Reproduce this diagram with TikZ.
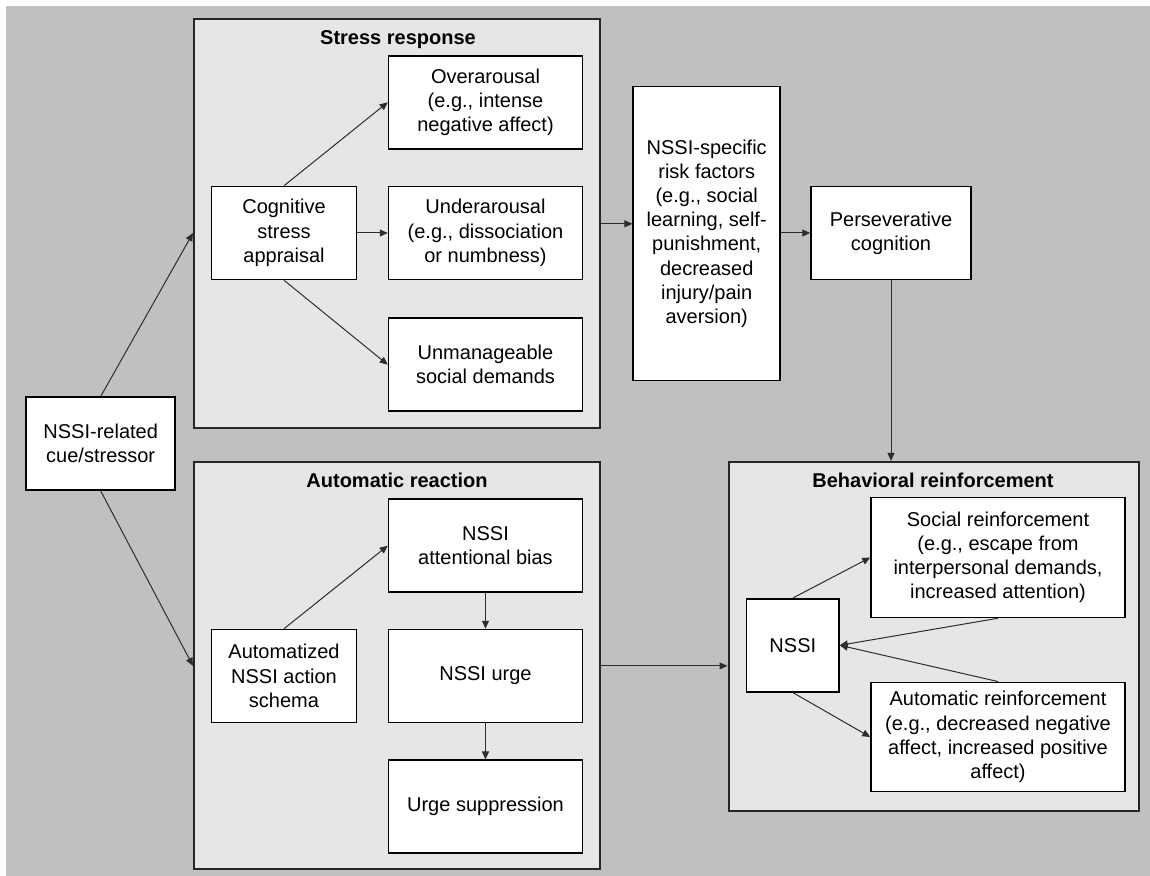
\documentclass[tikz,border=0pt]{standalone}
\usepackage{fontspec}
\setmainfont{Liberation Sans}
\usetikzlibrary{arrows.meta}
\definecolor{bggray}{RGB}{192,192,192}
\definecolor{panelgray}{RGB}{230,230,230}
\definecolor{linegray}{RGB}{45,45,45}
\begin{document}
\begin{tikzpicture}[x=0.5pt, y=-0.5pt,
        box/.style={draw=black, line width=0.75pt, fill=white, align=center, inner sep=0pt,
            font=\fontsize{10}{12.1}\selectfont},
        panel/.style={draw=black!85, line width=1pt, fill=panelgray, inner sep=0pt},
        paneltitle/.style={font=\fontsize{10}{12}\selectfont\bfseries},
        arr/.style={-{Triangle[length=4pt,width=3.5pt]}, draw=linegray, line width=0.5pt}]
                \useasboundingbox (0,0) rectangle (1150,876);
                \fill[bggray] (6,6) rectangle (1150,876);

                \node[panel, minimum width=203pt, minimum height=204.5pt] (stresspanel) at (397,223.8) {};
                \node[panel, minimum width=203pt, minimum height=203.5pt] (autopanel) at (397,665.9) {};
                \node[panel, minimum width=205pt, minimum height=174.5pt] (behavpanel) at (933.5,636.4) {};
                \node[paneltitle] (stresstitle) at (398,40) {Stress response};
                \node[paneltitle] (autotitle) at (397,480) {Automatic reaction};
                \node[paneltitle] (behavtitle) at (933,480) {Behavioral reinforcement};

                \node[box, minimum width=74.5pt, minimum height=46.5pt] (cue) at (100.7,443.7) {NSSI-related\\cue/stressor};
                \node[box, minimum width=72.5pt, minimum height=46.5pt] (cognitive) at (284,233) {Cognitive\\stress\\appraisal};
                \node[box, minimum width=97pt, minimum height=46.5pt] (overarousal) at (485.5,102.3) {Overarousal\\(e.g., intense\\negative affect)};
                \node[box, minimum width=97pt, minimum height=46.5pt] (underarousal) at (485.5,233) {Underarousal\\(e.g., dissociation\\or numbness)};
                \node[box, minimum width=97pt, minimum height=46.5pt] (unmanageable) at (485.5,364.7) {Unmanageable\\social demands};
                \node[box, minimum width=73.5pt, minimum height=147pt] (risk) at (706.7,233.7) {NSSI-specific\\risk factors\\(e.g., social\\learning, self-\\punishment,\\decreased\\injury/pain\\aversion)};
                \node[box, minimum width=80pt, minimum height=46.5pt] (persev) at (891,233) {Perseverative\\cognition};

                \node[box, minimum width=72.5pt, minimum height=46.5pt] (schema) at (284,676) {Automatized\\NSSI action\\schema};
                \node[box, minimum width=97pt, minimum height=46.5pt] (attention) at (485.5,545.7) {NSSI\\attentional bias};
                \node[box, minimum width=97pt, minimum height=46.5pt] (urge) at (485.5,676) {NSSI urge};
                \node[box, minimum width=97pt, minimum height=46.5pt] (suppression) at (485.5,806.7) {Urge suppression};

                \node[box, minimum width=46.25pt, minimum height=46.5pt] (nssi) at (792.8,645.3) {NSSI};
                \node[box, minimum width=127pt, minimum height=60pt] (social) at (998,557.5) {Social reinforcement\\(e.g., escape from\\interpersonal demands,\\increased attention)};
                \node[box, minimum width=127pt, minimum height=54.7pt] (autoreinf) at (998,737) {Automatic reinforcement\\(e.g., decreased negative\\affect, increased positive\\affect)};

                \draw[arr] (cue.north) -- (cognitive -| stresspanel.west);
                \draw[arr] (cue.south) -- (autopanel.west);
                \draw[arr] (cognitive.north) -- (overarousal.west);
                \draw[arr] (cognitive.east) -- (underarousal.west);
                \draw[arr] (cognitive.south) -- (unmanageable.west);
                \draw[arr] (stresspanel.east) -- (stresspanel.east -| risk.west);
                \draw[arr] (risk.east |- persev.west) -- (persev.west);
                \draw[arr] (persev.south) -- (persev.south |- behavpanel.north);
                \draw[arr] (schema.north) -- (attention.west);
                \draw[arr] (attention.south) -- (urge.north);
                \draw[arr] (urge.south) -- (suppression.north);
                \draw[arr] (autopanel.east) -- (autopanel.east -| behavpanel.west);
                \draw[arr] (nssi.north) -- (social.west);
                \draw[arr] (social.south) -- (nssi.east);
                \draw[arr] (autoreinf.north) -- (nssi.east);
                \draw[arr] (nssi.south) -- (autoreinf.west);
\end{tikzpicture}
\end{document}
